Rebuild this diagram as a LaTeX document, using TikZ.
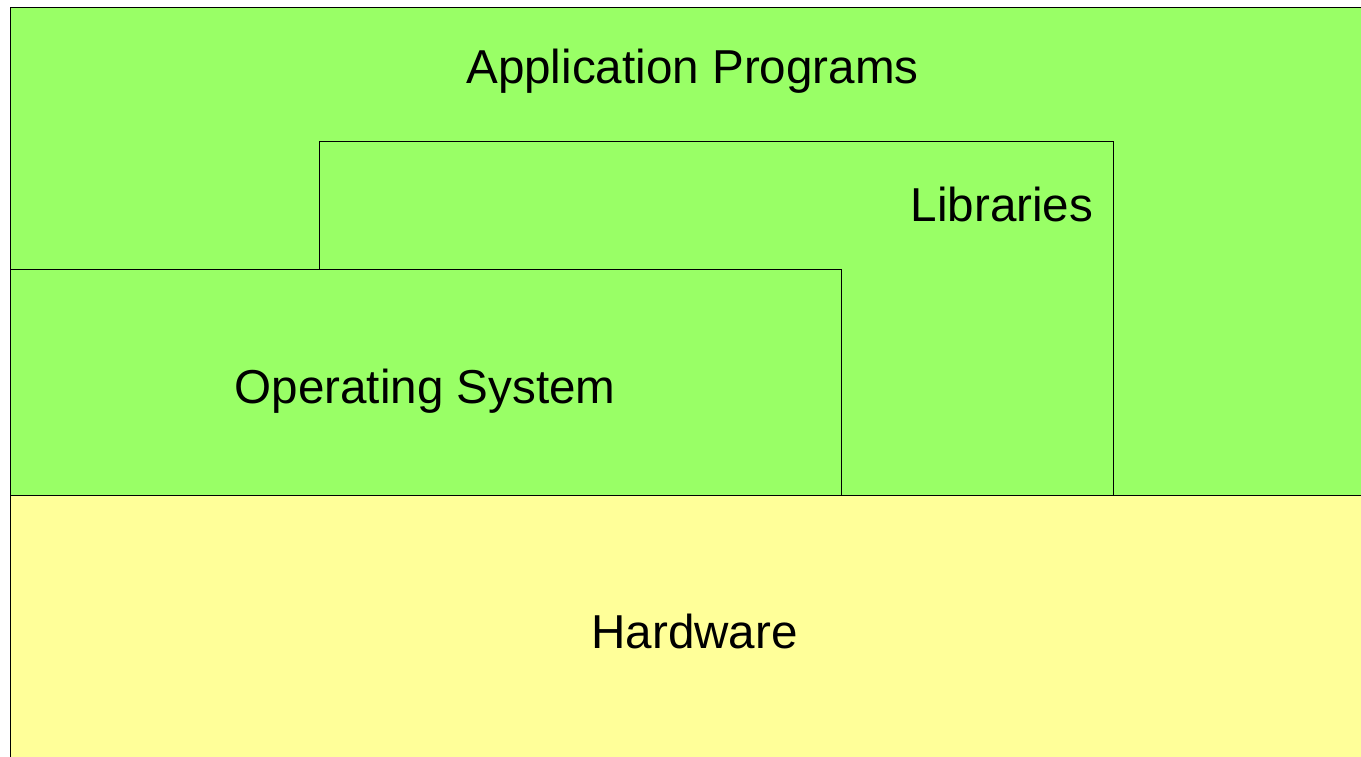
\documentclass[tikz,border=0pt]{standalone}
\usepackage{fontspec}
\setmainfont{Liberation Sans}
\definecolor{appgreen}{HTML}{99FF66}
\definecolor{hwyellow}{HTML}{FFFF99}
\tikzset{
 layer/.style={draw=black,line width=1pt},
 label/.style={inner sep=0pt,anchor=base,font=\fontsize{47.6}{56}\selectfont}
}
\begin{document}
\begin{tikzpicture}[x=1pt,y=-1pt]
 \useasboundingbox (0,0) rectangle (1361,756);
 \clip (0,0) rectangle (1361,756);
 \draw[layer,fill=appgreen](10,7) rectangle (1375,495);
 \draw[layer,fill=appgreen](319,141) rectangle (1113,495);
 \draw[layer,fill=appgreen](10,269) rectangle (841,495);
 \draw[layer,fill=hwyellow](10,495) rectangle (1375,770);
 \node[label] (apps) at (692.5,83.5) {Application Programs};
 \node[label] (libs) at (1002,221) {Libraries};
 \node[label] (os) at (425,403) {Operating System};
 \node[label] (hw) at (694.5,648.5) {Hardware};
\end{tikzpicture}
\end{document}
